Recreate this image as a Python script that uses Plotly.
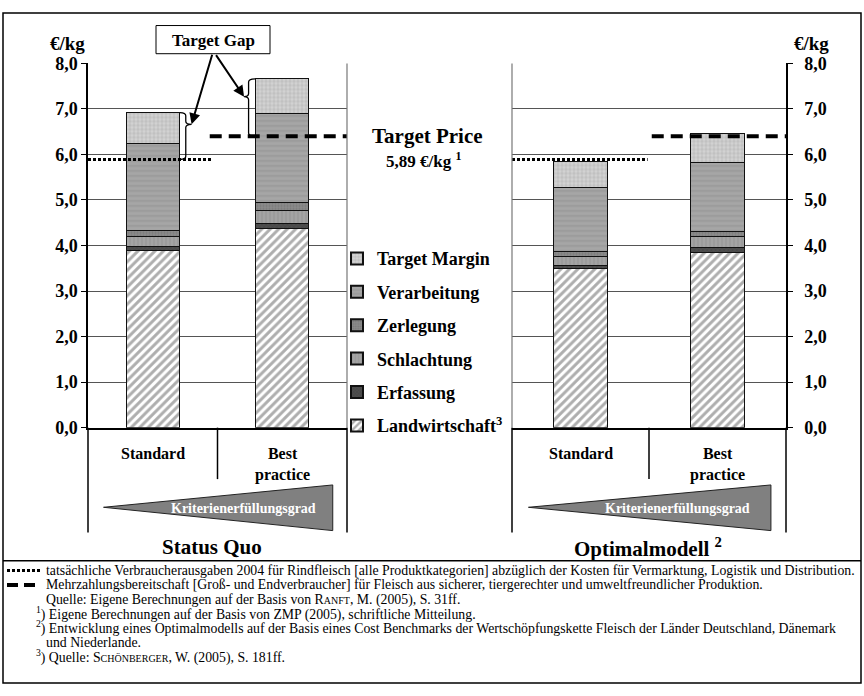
import plotly.graph_objects as go

W, H = 864, 696
SERIF = "Liberation Serif, Times New Roman, serif"

# ---- data -------------------------------------------------------------
categories = ["Standard", "Best<br>practice"]
panel_titles = ["Status Quo", "Optimalmodell <sup>2</sup>"]

# €/kg per cost block: [Status Quo Standard, Status Quo Best practice,
#                       Optimalmodell Standard, Optimalmodell Best practice]
landwirtschaft = [3.90, 4.37, 3.50, 3.84]
erfassung = [0.08, 0.12, 0.07, 0.12]
schlachtung = [0.22, 0.27, 0.19, 0.23]
zerlegung = [0.14, 0.18, 0.11, 0.11]
verarbeitung = [1.90, 1.95, 1.41, 1.52]
target_margin = [0.68, 0.77, 0.57, 0.65]

segment_names = ["Landwirtschaft<sup>3</sup>", "Erfassung", "Schlachtung",
                 "Zerlegung", "Verarbeitung", "Target Margin"]
segment_values = [landwirtschaft, erfassung, schlachtung, zerlegung,
                  verarbeitung, target_margin]

target_price = 5.89     # consumer spending 2004 (dotted line)
wtp_price = 6.40        # willingness to pay more (dashed line)
y_ticks = [0, 1, 2, 3, 4, 5, 6, 7, 8]

# ---- styling ----------------------------------------------------------
patterns = [
    dict(shape="/", bgcolor="#ffffff", fgcolor="#5e5e5e", size=6, solidity=0.5),
    dict(shape="x", bgcolor="#4e4e4e", fgcolor="#333333", size=3, solidity=0.3),
    dict(shape="|", bgcolor="#a4a4a4", fgcolor="#8a8a8a", size=4, solidity=0.3),
    dict(shape=".", bgcolor="#8c8c8c", fgcolor="#666666", size=3, solidity=0.4),
    dict(shape="-", bgcolor="#a6a6a6", fgcolor="#8a8a8a", size=5, solidity=0.3),
    dict(shape="+", bgcolor="#d2d2d2", fgcolor="#888888", size=4, solidity=0.25),
]

# panel geometry in pixels
L_X0, L_X1 = 88, 347
R_X0, R_X1 = 512, 786
Y_TOP, Y_BOT = 55, 430


def px(x):
    return x / W


def py(y):
    return 1 - y / H


fig = go.Figure()

panels = [("x", "y", 0.41), ("x2", "y2", 0.40)]
n_seg = len(segment_names)
for s, (name, vals) in enumerate(zip(segment_names, segment_values)):
    for p, (xa, ya, bw) in enumerate(panels):
        fig.add_trace(go.Bar(
            x=[0, 1], y=vals[2 * p:2 * p + 2], width=bw,
            xaxis=xa, yaxis=ya, name=name, legendgroup=name,
            legendrank=(n_seg - s) * 100,
            showlegend=(p == 0),
            marker=dict(pattern=patterns[s], color=patterns[s]["bgcolor"],
                        line=dict(color="#111111", width=1)),
            hoverinfo="skip",
        ))

# reference price lines
line_spans = [((-0.5, 0.45), (0.44, 1.5)), ((-0.5, 0.49), (0.52, 1.5))]
for p, (xa, ya, _) in enumerate(panels):
    dot_span, dash_span = line_spans[p]
    fig.add_trace(go.Scatter(
        x=list(dot_span), y=[target_price, target_price], mode="lines",
        xaxis=xa, yaxis=ya, showlegend=False, hoverinfo="skip",
        line=dict(color="black", width=3, dash="3px,2px")))
    fig.add_trace(go.Scatter(
        x=list(dash_span), y=[wtp_price, wtp_price], mode="lines",
        xaxis=xa, yaxis=ya, showlegend=False, hoverinfo="skip",
        line=dict(color="black", width=4, dash="12px,7px")))

shapes = []


def pline(x0, y0, x1, y1, color="black", width=1.5, dash=None):
    shapes.append(dict(type="line", xref="paper", yref="paper",
                       x0=px(x0), y0=py(y0), x1=px(x1), y1=py(y1),
                       line=dict(color=color, width=width, dash=dash)))


# frame and footnote separator
shapes.append(dict(type="rect", xref="paper", yref="paper",
                   x0=px(3), y0=py(693), x1=px(861), y1=py(3),
                   line=dict(color="black", width=1.5)))
pline(3, 567, 861, 567)

# inner plot borders next to the legend
pline(L_X1, Y_TOP, L_X1, Y_BOT, color="#777777", width=1.2)
pline(R_X0, Y_TOP, R_X0, Y_BOT, color="#777777", width=1.2)

# category boxes and criteria triangles
for x0, x1 in [(L_X0, L_X1), (R_X0, R_X1)]:
    mid = (x0 + x1) / 2
    pline(x0, Y_BOT, x0, 538)
    pline(mid, Y_BOT, mid, 483)
    pline(x1, Y_BOT, x1, 538)
    tx0 = x0 + 0.06 * (x1 - x0)
    tx1 = x0 + 0.945 * (x1 - x0)
    shapes.append(dict(
        type="path", xref="paper", yref="paper",
        path=f"M{px(tx0)},{py(512)} L{px(tx1)},{py(489)} L{px(tx1)},{py(536)} Z",
        fillcolor="#808080", line=dict(color="#222222", width=1)))

# footnote line samples
pline(7, 577, 41, 577, width=3, dash="3px,2px")
pline(7, 592, 37, 592, width=4, dash="11px,6px")

# "Target Gap" box
shapes.append(dict(type="rect", xref="paper", yref="paper",
                   x0=px(156), y0=py(45), x1=px(270), y1=py(16),
                   fillcolor="white", line=dict(color="black", width=1)))


def brace(x_edge, x_body, x_tip, y_top, y_bot, tip_frac, d=0.07):
    y_tip = y_top - tip_frac * (y_top - y_bot)
    return (f"M{x_edge},{y_top} Q{x_body},{y_top} {x_body},{y_top - d} "
            f"L{x_body},{y_tip + d} Q{x_body},{y_tip} {x_tip},{y_tip} "
            f"Q{x_body},{y_tip} {x_body},{y_tip - d} "
            f"L{x_body},{y_bot + d} Q{x_body},{y_bot} {x_edge},{y_bot}"), y_tip


sq_std_total = sum(v[0] for v in segment_values)
sq_best_total = sum(v[1] for v in segment_values)
path1, tip1 = brace(0.21, 0.255, 0.30, sq_std_total, target_price, 0.25)
path2, tip2 = brace(0.79, 0.74, 0.705, sq_best_total, wtp_price, 0.31)
for path in (path1, path2):
    shapes.append(dict(type="path", xref="x", yref="y", path=path,
                       line=dict(color="black", width=1.3)))

annotations = []


def ptext(x, y, text, size, bold=True, color="black", xanchor="center",
          yanchor="middle"):
    annotations.append(dict(
        x=px(x), y=py(y), xref="paper", yref="paper", text=text,
        showarrow=False, xanchor=xanchor, yanchor=yanchor, borderpad=0,
        font=dict(family=SERIF, size=size, color=color,
                  weight="bold" if bold else "normal")))


ptext(67, 34, "€/kg", 19)
ptext(811, 34, "€/kg", 19)
ptext(213, 31, "Target Gap", 17)
ptext(427, 130, "Target Price", 21)
ptext(423, 154, f"{target_price:.2f}".replace(".", ",") + " €/kg <sup>1</sup>", 17)

for p, (xa, ya, _) in enumerate(panels):
    for i, cat in enumerate(categories):
        annotations.append(dict(
            x=i, y=py(446), xref=xa, yref="paper", text=cat, showarrow=False,
            xanchor="center", yanchor="top",
            font=dict(family=SERIF, size=16, color="black", weight="bold")))

ptext(243, 513, "Kriterienerfüllungsgrad", 14, color="white")
ptext(677, 513, "Kriterienerfüllungsgrad", 14, color="white")
ptext(212, 553, panel_titles[0], 21)
ptext(648, 553, panel_titles[1], 21)

small = "<span style='font-size:10px'>"
footnotes = [
    (45, 577, "tatsächliche Verbraucherausgaben 2004 für Rindfleisch [alle Produktkategorien] "
              "abzüglich der Kosten für Vermarktung, Logistik und Distribution."),
    (45, 592, "Mehrzahlungsbereitschaft [Groß- und Endverbraucher] für Fleisch aus sicherer, "
              "tiergerechter und umweltfreundlicher Produktion."),
    (45, 607, f"Quelle: Eigene Berechnungen auf der Basis von R{small}ANFT</span>, M. (2005), S. 31ff."),
    (35, 621, "<sup>1</sup>) Eigene Berechnungen auf der Basis von ZMP (2005), schriftliche Mitteilung."),
    (35, 636, "<sup>2</sup>) Entwicklung eines Optimalmodells auf der Basis eines Cost Benchmarks "
              "der Wertschöpfungskette Fleisch der Länder Deutschland, Dänemark"),
    (45, 651, "und Niederlande."),
    (35, 666, f"<sup>3</sup>) Quelle: S{small}CHÖNBERGER</span>, W. (2005), S. 181ff."),
]
for x, y, t in footnotes:
    ptext(x, y, t, 13.8, bold=False, xanchor="left")

# arrows from the "Target Gap" box to the braces
for xa_val, ya_val, ax, ay in [(0.30, tip1, 21, -71), (0.705, tip2, -29, -43)]:
    annotations.append(dict(
        x=xa_val, y=ya_val, xref="x", yref="y", text="", showarrow=True,
        ax=ax, ay=ay, arrowhead=2, arrowsize=1.1, arrowwidth=2,
        arrowcolor="black"))

axis_font = dict(family=SERIF, size=18, color="black", weight="bold")
common_y = dict(range=[0, 8], tickvals=y_ticks, tickformat=".1f",
                domain=[py(Y_BOT), py(Y_TOP)], showgrid=True,
                gridcolor="#555555", gridwidth=1, zeroline=False,
                showline=True, linecolor="black", linewidth=1.5,
                ticks="outside", ticklen=5, tickcolor="black",
                tickfont=axis_font, fixedrange=True)
common_x = dict(range=[-0.5, 1.5], showticklabels=False, showgrid=False,
                zeroline=False, showline=True, linecolor="black",
                linewidth=1.5, ticks="", fixedrange=True)

fig.update_layout(
    width=W, height=H, margin=dict(l=0, r=0, t=0, b=0),
    paper_bgcolor="white", plot_bgcolor="white",
    barmode="stack", separators=",.",
    xaxis=dict(domain=[px(L_X0), px(L_X1)], anchor="y", **common_x),
    xaxis2=dict(domain=[px(R_X0), px(R_X1)], anchor="y2", **common_x),
    yaxis=dict(anchor="x", side="left", **common_y),
    yaxis2=dict(anchor="x2", side="right", ticklabelstandoff=8, **common_y),
    legend=dict(x=px(337), y=py(237), xanchor="left", yanchor="top",
                bgcolor="rgba(0,0,0,0)", traceorder="grouped",
                tracegroupgap=7, itemsizing="constant",
                font=dict(family=SERIF, size=18, color="black", weight="bold")),
    shapes=shapes, annotations=annotations,
)

fig.write_html("out.html")
